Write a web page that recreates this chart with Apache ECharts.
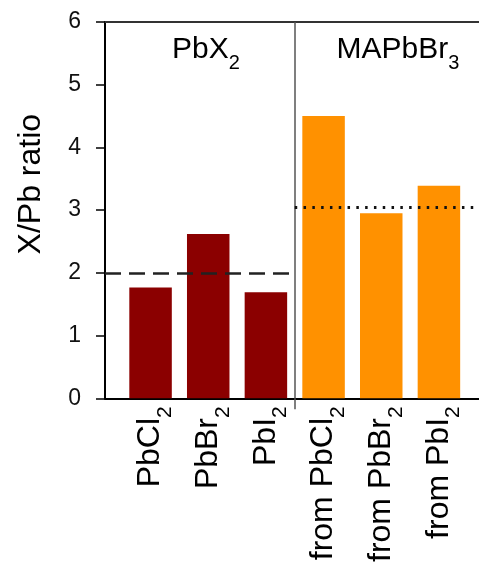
<!DOCTYPE html>
<html><head><meta charset="utf-8">
<script src="https://cdn.jsdelivr.net/npm/echarts@6/dist/echarts.min.js"></script>
<style>html,body{margin:0;padding:0;background:#fff}#c{width:479px;height:565px}</style>
</head><body><div id="c"></div>
<script>
// ---- data ----
const categories = ['PbCl2', 'PbBr2', 'PbI2', 'from PbCl2', 'from PbBr2', 'from PbI2'];
const categoryPositions = [0, 1, 2, 3, 4, 5];
const pbx2Values = [1.765, 2.62, 1.69];
const mapbbr3Values = [4.50, 2.95, 3.39];
const groupTitles = ['PbX2', 'MAPbBr3'];
const yTicks = [0, 1, 2, 3, 4, 5, 6];
const pbx2Ref = 2.0;
const mapbbr3Ref = 3.05;
const yName = 'X/Pb ratio';

// ---- helpers ----
const FONT = '"Liberation Sans", Arial, Helvetica, sans-serif';
function subText(s) {
  const m = s.match(/^(.*?)(\d)$/);
  return m ? '{a|' + m[1] + '}{s|' + m[2] + '}' : '{a|' + s + '}';
}
function rich(size, subSize, shift) {
  return {
    a: { fontSize: size, lineHeight: size + 4, fontFamily: FONT, color: '#000' },
    s: { fontSize: subSize, fontFamily: FONT, color: '#000', verticalAlign: 'bottom', padding: [0, 0, -shift, 0] }
  };
}
const xMin = -0.79, xMax = 5.695, splitX = 2.5;

const pbx2Data = pbx2Values.map((v, i) => [categoryPositions[i], v]);
const mapData = mapbbr3Values.map((v, i) => [categoryPositions[i + 3], v]);

const chart = echarts.init(document.getElementById('c'), null, { renderer: 'canvas' });
chart.setOption({
  animation: false,
  backgroundColor: '#fff',
  grid: { left: 105, right: 0, top: 22, bottom: 164 },
  xAxis: [{
    type: 'value', min: xMin, max: xMax,
    splitLine: { show: false },
    axisLine: { show: true, onZero: false, lineStyle: { color: '#000', width: 2 } },
    axisTick: { show: true, customValues: [splitX], length: 11, lineStyle: { color: '#555', width: 1.5 } },
    axisLabel: {
      show: true, customValues: categoryPositions, rotate: 90, margin: 8,
      formatter: v => subText(categories[Math.round(v)]),
      rich: rich(32, 21, 7)
    }
  }, {
    type: 'value', min: xMin, max: xMax, position: 'top',
    splitLine: { show: false },
    axisLine: { show: true, onZero: false, lineStyle: { color: '#333', width: 2 } },
    axisTick: { show: false }, axisLabel: { show: false }
  }],
  yAxis: {
    type: 'value', min: yTicks[0], max: yTicks[yTicks.length - 1], interval: 1,
    splitLine: { show: false },
    axisLine: { show: true, onZero: false, lineStyle: { color: '#000', width: 2 } },
    axisTick: { show: true, length: 9, lineStyle: { color: '#000', width: 1.5 } },
    axisLabel: { margin: 24, fontSize: 23, fontFamily: FONT, color: '#111' },
    name: yName, nameLocation: 'middle', nameGap: 58,
    nameTextStyle: { fontSize: 32, fontFamily: FONT, color: '#000', padding: [0, 0, 0, 52] }
  },
  graphic: [
    { type: 'text', x: 206, y: 50, style: { text: subText(groupTitles[0]), rich: rich(30, 20, 6), align: 'center', verticalAlign: 'middle', textAlign: 'center', textVerticalAlign: 'middle' } },
    { type: 'text', x: 398, y: 50, style: { text: subText(groupTitles[1]), rich: rich(30, 20, 6), align: 'center', verticalAlign: 'middle', textAlign: 'center', textVerticalAlign: 'middle' } }
  ],
  series: [{
    name: groupTitles[0], type: 'bar', xAxisIndex: 0, data: pbx2Data,
    barWidth: 42.5, barGap: '-100%',
    itemStyle: { color: '#8B0000' },
    markLine: {
      silent: true, symbol: 'none', label: { show: false },
      data: [
        { xAxis: splitX, lineStyle: { type: 'solid', color: '#555', width: 1.5 } },
        [{ coord: [xMin, pbx2Ref], lineStyle: { type: [16, 8], color: '#222', width: 2.5 } }, { coord: [splitX, pbx2Ref] }],
        [{ coord: [splitX, mapbbr3Ref], lineStyle: { type: [2.5, 6.3], color: '#111', width: 2.8 } }, { coord: [xMax, mapbbr3Ref] }]
      ]
    }
  }, {
    name: groupTitles[1], type: 'bar', xAxisIndex: 0, data: mapData,
    barWidth: 42.5, barGap: '-100%',
    itemStyle: { color: '#FF9100' }
  }]
});
</script></body></html>
